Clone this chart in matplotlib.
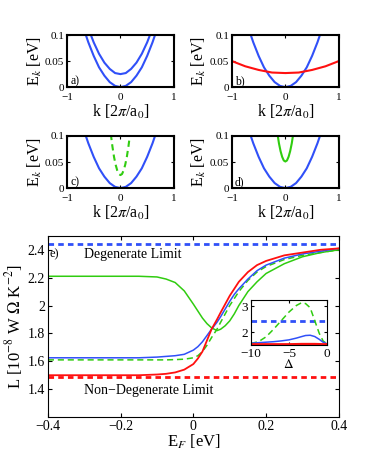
import matplotlib
matplotlib.use("Agg")
import matplotlib.pyplot as plt

plt.rcParams['font.family'] = ['Liberation Serif', 'DejaVu Serif']
plt.rcParams['mathtext.fontset'] = 'stix'

BLUE = '#3050f8'
RED = '#ff1010'
GREEN = '#30cc10'

# ---- band panels a) - d) ----
k_blue = [-0.65, -0.6, -0.5, -0.4, -0.3, -0.2, -0.1, 0, 0.1, 0.2, 0.3, 0.4, 0.5, 0.6, 0.65]
E_blue = [0.101, 0.086, 0.060, 0.038, 0.022, 0.0096, 0.0024, 0.0, 0.0024, 0.0096, 0.022, 0.038, 0.060, 0.086, 0.101]

k_blue_up = [-0.56, -0.5, -0.4, -0.3, -0.2, -0.1, 0, 0.1, 0.2, 0.3, 0.4, 0.5, 0.56]
E_blue_up = [0.102, 0.086, 0.064, 0.047, 0.035, 0.027, 0.025, 0.027, 0.035, 0.047, 0.064, 0.086, 0.102]

k_red = [-1.0, -0.75, -0.5, -0.25, 0, 0.25, 0.5, 0.75, 1.0]
E_red = [0.050, 0.040, 0.033, 0.028, 0.027, 0.028, 0.033, 0.040, 0.050]

k_green = [-0.18, -0.15, -0.12, -0.09, -0.06, -0.03, 0, 0.03, 0.06, 0.09, 0.12, 0.15, 0.18]
E_green_c = [0.104, 0.080, 0.060, 0.045, 0.034, 0.027, 0.025, 0.027, 0.034, 0.045, 0.060, 0.080, 0.104]
E_green_d = [0.130, 0.106, 0.086, 0.071, 0.060, 0.053, 0.051, 0.053, 0.060, 0.071, 0.086, 0.106, 0.130]

# ---- main panel e) ----
EF = [-0.4, -0.3, -0.2, -0.15, -0.1, -0.075, -0.05, -0.025, 0, 0.0125, 0.025, 0.0375, 0.05, 0.065,
      0.075, 0.0875, 0.1, 0.1125, 0.125, 0.15, 0.175, 0.2, 0.25, 0.3, 0.35, 0.4]
L_red = [1.50, 1.50, 1.50, 1.50, 1.505, 1.51, 1.52, 1.54, 1.58, 1.62, 1.67, 1.75, 1.83, 1.90,
         1.95, 2.01, 2.07, 2.12, 2.17, 2.24, 2.29, 2.32, 2.36, 2.38, 2.40, 2.41]
L_blue = [1.625, 1.625, 1.625, 1.625, 1.63, 1.635, 1.64, 1.65, 1.68, 1.705, 1.74, 1.785, 1.83, 1.88,
          1.92, 1.975, 2.03, 2.08, 2.12, 2.19, 2.25, 2.29, 2.34, 2.37, 2.39, 2.41]
L_green_d = [1.61, 1.61, 1.61, 1.61, 1.61, 1.61, 1.612, 1.615, 1.625, 1.64, 1.67, 1.715, 1.77, 1.83,
             1.88, 1.94, 2.00, 2.05, 2.10, 2.18, 2.24, 2.28, 2.33, 2.36, 2.38, 2.40]
L_green = [2.21, 2.21, 2.21, 2.21, 2.205, 2.19, 2.165, 2.105, 2.01, 1.96, 1.91, 1.87, 1.84, 1.82,
           1.83, 1.855, 1.89, 1.94, 2.00, 2.10, 2.17, 2.23, 2.30, 2.35, 2.38, 2.40]
L_degenerate = 2.445
L_nondegenerate = 1.49

# ---- inset ----
delta = [-10, -9, -8, -7, -6, -5, -4, -3.3, -2.8, -2.2, -1.6, -1, -0.5, 0]
ins_green_d = [1.56, 1.63, 1.82, 2.12, 2.45, 2.78, 3.04, 3.15, 3.11, 2.95, 2.45, 1.95, 1.66, 1.55]
ins_blue = [1.57, 1.59, 1.61, 1.63, 1.66, 1.70, 1.77, 1.83, 1.87, 1.88, 1.83, 1.72, 1.61, 1.55]
ins_red = [1.52, 1.52, 1.52, 1.52, 1.52, 1.52, 1.525, 1.53, 1.53, 1.53, 1.53, 1.525, 1.52, 1.52]


fig = plt.figure(figsize=(3.74, 4.61), dpi=100)


def band_axes(rect, letter):
    ax = fig.add_axes(rect)
    ax.set_xlim(-1, 1)
    ax.set_ylim(0, 0.1)
    ax.set_xticks([-1, 0, 1])
    ax.set_xticklabels(['\u22121', '0', '1'])
    ax.set_yticks([0, 0.05, 0.1])
    ax.set_yticklabels(['0', '0.05', '0.1'])
    ax.tick_params(direction='in', top=True, right=True, labelsize=8, length=2)
    ax.tick_params(axis='x', pad=4.5)
    ax.tick_params(axis='y', pad=2)
    for s in ax.spines.values():
        s.set_linewidth(1.5)
    ax.set_xlabel(r'k [2$\pi$/a$_0$]', fontsize=11.5, labelpad=0.5)
    ax.set_ylabel(r'E$_k$ [eV]', fontsize=11.5, labelpad=1)
    ax.text(0.03, 0.06, letter, transform=ax.transAxes, fontsize=8.5)
    return ax


ax_a = band_axes([0.179, 0.811, 0.286, 0.113], 'a)')
ax_a.plot(k_blue, E_blue, color=BLUE, lw=1.5)
ax_a.plot(k_blue_up, E_blue_up, color=BLUE, lw=1.5)

ax_b = band_axes([0.620, 0.811, 0.286, 0.113], 'b)')
ax_b.plot(k_blue, E_blue, color=BLUE, lw=1.5)
ax_b.plot(k_red, E_red, color=RED, lw=1.5)

ax_c = band_axes([0.179, 0.592, 0.286, 0.113], 'c)')
ax_c.plot(k_blue, E_blue, color=BLUE, lw=1.5)
ax_c.plot(k_green, E_green_c, color=GREEN, lw=1.5, ls=(0, (3, 2)))

ax_d = band_axes([0.620, 0.592, 0.286, 0.113], 'd)')
ax_d.plot(k_blue, E_blue, color=BLUE, lw=1.5)
ax_d.plot(k_green, E_green_d, color=GREEN, lw=1.5)

# main panel
ax = fig.add_axes([0.128, 0.0954, 0.778, 0.393])
ax.axhline(L_degenerate, color=BLUE, lw=2, ls=(0, (2, 1.5)))
ax.axhline(L_nondegenerate, color=RED, lw=2, ls=(0, (2, 1.5)))
ax.plot(EF, L_green, color=GREEN, lw=1.1)
ax.plot(EF, L_green_d, color=GREEN, lw=1.1, ls=(0, (4, 2.5)))
ax.plot(EF, L_blue, color=BLUE, lw=1.1)
ax.plot(EF, L_red, color=RED, lw=1.3)
ax.set_xlim(-0.4, 0.4)
ax.set_ylim(1.2, 2.5)
ax.set_xticks([-0.4, -0.2, 0, 0.2, 0.4])
ax.set_xticklabels(['\u22120.4', '\u22120.2', '0', '0.2', '0.4'])
ax.set_yticks([1.4, 1.6, 1.8, 2.0, 2.2, 2.4])
ax.set_yticklabels(['1.4', '1.6', '1.8', '2', '2.2', '2.4'])
ax.tick_params(direction='in', top=True, right=True, labelsize=10, length=3, pad=2)
ax.set_xlabel(r'E$_F$ [eV]', fontsize=12, labelpad=0)
ax.set_ylabel(r'L [10$^{-8}$ W $\Omega$ K$^{-2}$]', fontsize=12, labelpad=2)
ax.text(-0.3, 2.365, 'Degenerate Limit', fontsize=10, va='center')
ax.text(-0.3, 1.39, 'Non\u2212Degenerate Limit', fontsize=10, va='center')
ax.text(-0.395, 2.37, 'e)', fontsize=9, va='center')

# inset
ins = fig.add_axes([0.671, 0.2516, 0.203, 0.0976])
ins.axhline(L_degenerate, color=BLUE, lw=2, ls=(0, (2, 1.5)))
ins.plot(delta, ins_green_d, color=GREEN, lw=1.1, ls=(0, (4, 2.5)))
ins.plot(delta, ins_blue, color=BLUE, lw=1.1)
ins.plot(delta, ins_red, color=RED, lw=2)
ins.set_xlim(-10, 0)
ins.set_ylim(1.5, 3.25)
ins.set_xticks([-10, -5, 0])
ins.set_xticklabels(['\u221210', '\u22125', '0'])
ins.set_yticks([2, 3])
ins.set_yticklabels(['2', '3'])
ins.tick_params(direction='in', top=True, right=True, labelsize=9.5, length=2, pad=2)
ins.set_xlabel(r'$\Delta$', fontsize=9.5, labelpad=-1)

fig.savefig('out.png', dpi=100)
